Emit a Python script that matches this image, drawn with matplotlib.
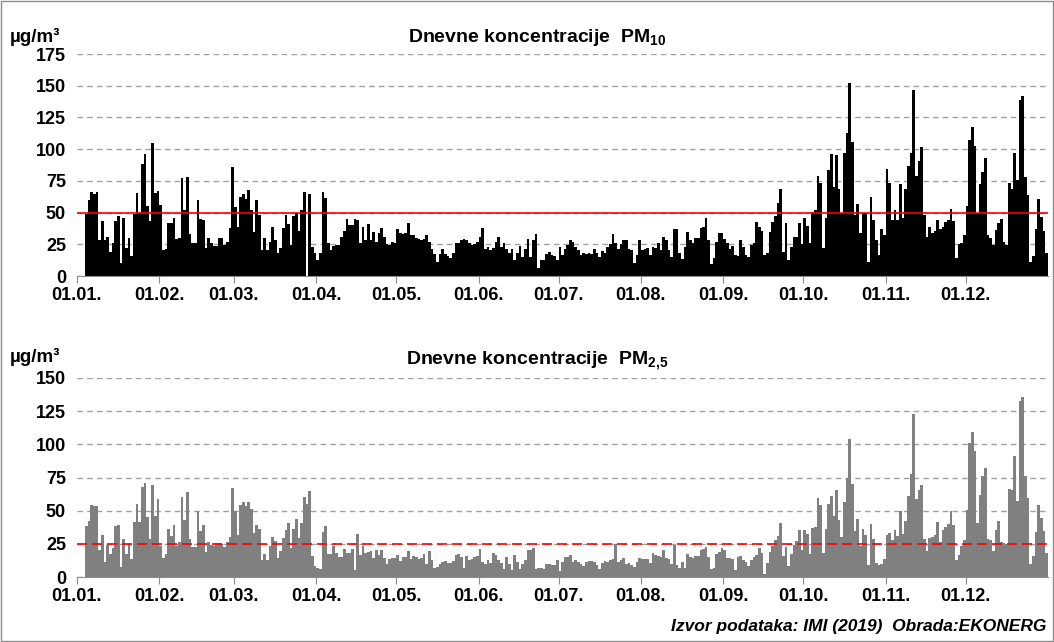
import numpy
import matplotlib
matplotlib.use("Agg")
from matplotlib import pyplot as plt
from matplotlib.patches import Rectangle

plt.rcParams['font.family'] = ['Liberation Sans', 'DejaVu Sans']
plt.rcParams['mathtext.fontset'] = 'custom'
plt.rcParams['mathtext.rm'] = 'Liberation Sans:bold'
plt.rcParams['mathtext.bf'] = 'Liberation Sans:bold'

# daily values (first 3 days have no data)
missing_start = [numpy.nan, numpy.nan, numpy.nan]

pm10_jan_feb = [49, 60, 66, 64.5, 66, 28, 43.5, 28, 31, 19, 26, 43.5, 47, 10, 46, 22, 30, 16, 49, 65.6,
                50, 88, 96, 55, 43.5, 104.5, 65.6, 67, 56, 20.5, 21, 42, 41.5, 46, 29, 30, 77, 52, 78, 33.5,
                25.7, 26, 60, 44.6, 44, 22, 30, 26, 23.6, 24, 29.7, 29.7, 24.4, 27, 38, 86, 54, 39, 62, 65,
                61, 68]
pm10_mar_may = [52, 35, 60, 48, 20.5, 29.7, 20.5, 27, 39, 28, 18, 22, 37.5, 48, 40.7, 24.4, 47, 50, 35.4, 52,
                66, numpy.nan, 65, 23, 18, 12.6, 18, 66.4, 61.7, 25.7, 20.5, 23.6, 24.4, 24.4, 31, 35.7, 44.6, 40, 40, 45,
                44, 26, 39, 28, 41, 28, 35, 27, 34, 37.5, 31, 25, 24.4, 27, 26, 36.7, 33.6, 33, 34, 42,
                32, 32]
pm10_may_jul = [30, 29, 28, 29, 32, 27, 21, 17, 11, 17, 21.5, 17, 16, 14.5, 18, 26, 26, 28, 29, 28,
                26, 24.4, 25, 27, 31, 37.5, 21, 22.6, 20.5, 22, 27, 30.4, 23, 26, 21, 18, 21, 13, 18, 23.6,
                14.7, 21, 29, 14.7, 28, 32.8, 6, 12.6, 13, 17.3, 19, 16.5, 15.7, 13, 22.6, 16.5, 21, 24.4, 28, 27,
                22.6, 20.5, 16.5]
pm10_jul_sep = [18, 17.5, 18, 17, 21.5, 17.8, 15, 20, 17.8, 23, 25, 33, 26, 21, 25, 28, 28, 21, 20.5, 10,
                16.5, 28, 20.5, 21.5, 22, 16.5, 23, 22, 26, 20.5, 30.4, 28, 20.5, 15, 36.7, 36.7, 17.8, 13.6, 23, 35,
                28, 26, 29.7, 29.7, 38, 38.3, 45.7, 28, 9.4, 13.9, 27, 33.6, 33.6, 29, 26, 21, 23.6, 16.5, 15.7, 28,
                23, 16.5]
pm10_sep_nov = [15.2, 24.4, 25.7, 42.8, 38.8, 35.7, 16.3, 18.4, 34.6, 42.8, 47, 57.7, 68.2, 19, 42, 12.6, 23, 31, 31, 42,
                25, 46, 39.6, 26, 50.6, 52, 78.7, 73.5, 22.3, 46, 83.5, 96, 69.8, 95.5, 68.2, 50, 96.6, 112.9, 152, 106,
                48, 56.7, 33.6, 50, 50, 11, 62.5, 44, 28.3, 16.8, 36.7, 32.3, 84, 73, 44, 52, 44, 72.4, 46, 68.5,
                86.9, 97]
pm10_nov_dec = [147, 79, 90.8, 101.6, 48, 30.4, 38.3, 33.6, 35.7, 44, 36.7, 38.8, 42.8, 44, 52.5, 43.3, 14.4, 25, 25.7, 32.3,
                55, 107.6, 117.6, 102.4, 50, 72.4, 82, 93.4, 32.3, 29.7, 24.4, 36, 41.5, 45, 27, 24.4, 73, 68.5, 97, 76,
                139, 142, 78, 63.8, 10.8, 16, 36.7, 60.6, 46.7, 35.7, 18]

pm25_jan_feb = [38.2, 42.2, 54.5, 53.3, 53.5, 20, 32, 11.3, 24.4, 17, 22, 38.4, 39, 7.5, 28.4, 17, 25, 13.8, 41.5, 55.3,
                41.5, 67.8, 71, 45, 29, 69.6, 45.7, 59, 23.4, 14.3, 17, 36.4, 30.7, 39, 23.4, 26.4, 60.3, 42.7, 64, 29,
                22.6, 22.6, 49.7, 35, 39, 18.8, 26.4, 23.9, 23.4, 25.9, 25.9, 25, 22.6, 26.4, 30, 67, 50, 32, 54.5, 56.3,
                53.3, 56.8]
pm25_mar_may = [51.5, 33.4, 39, 36, 13, 17, 13, 23, 30, 27, 14.3, 19.3, 29.4, 35.7, 41, 21.9, 36.4, 43.5, 29.6, 40.7,
                60.3, 55, 64.6, 15.8, 8.3, 7, 6.3, 34, 38.4, 17.6, 17, 23, 18, 15, 15, 20.9, 18, 18, 21.4, 5,
                32.4, 16.3, 23, 18.3, 18.8, 19.3, 14.3, 20, 16.3, 20, 14.3, 9.5, 13.8, 14.3, 14.3, 16.3, 11.8, 15, 15, 19.3,
                13.8, 15.6]
pm25_may_jul = [15, 13.8, 14.3, 17, 9.5, 19.3, 13, 6.8, 7.5, 10, 11.3, 12, 10.6, 10.8, 11.8, 16.8, 17.6, 15, 6.8, 15.6,
                13, 13.8, 15, 15.6, 20.9, 11.3, 10, 12.6, 10.8, 18.3, 16.3, 12.6, 10.6, 5.8, 15, 10, 5, 16.3, 11.3, 6.3,
                10, 13, 20, 20.6, 22, 6.3, 7, 7, 6.3, 9.5, 10, 9.3, 8.8, 13, 4.3, 11.3, 15, 15, 16.3, 11.3,
                12.6, 11.3, 10]
pm25_jul_sep = [8.3, 11.3, 12, 12, 11.3, 8.8, 5.8, 10.6, 11.8, 11.3, 12.6, 13.8, 24.6, 11.3, 13, 14.3, 10, 10.6, 8.8, 7.5,
                11.3, 14.3, 13.3, 13.8, 13.8, 10.6, 18.3, 16.3, 15.8, 15, 20, 14.6, 13.8, 10, 23.9, 9.3, 6.8, 11.3, 6.8, 17,
                15, 14.3, 15.6, 15.6, 20, 20.9, 22.6, 15, 6.3, 6.8, 17.6, 18.8, 21.9, 20, 14.3, 14.3, 13.8, 5.5, 15, 15.6,
                12.6, 11.3]
pm25_sep_nov = [8, 12.6, 15, 16.3, 22, 18.3, 2.5, 10.6, 18.8, 23.4, 27.6, 30.7, 41, 15.6, 22.6, 8.3, 17, 23.9, 26.9, 35.2,
                20.4, 35.7, 32.7, 17.3, 36.9, 37.7, 59.8, 54, 18, 36.4, 54.8, 61, 45.7, 65.6, 42.7, 30.4, 56.8, 74.9, 103.8, 70.4,
                35, 43.5, 23.4, 36.4, 31.4, 8.8, 40.2, 28.4, 10.6, 9.3, 10, 13.8, 31.9, 33.4, 27.6, 35.2, 30.9, 49.7, 32.2, 42.2,
                61, 77.4]
pm25_nov_dec = [123, 59, 65.3, 69, 28.4, 19.6, 29.4, 30.2, 31.9, 41.5, 26.4, 35.2, 37.7, 39.7, 49.7, 39, 13, 16.3, 23.4, 27.6,
                50.3, 101, 109.3, 94.7, 40.7, 62, 76, 82, 28.9, 27.6, 19.6, 35.7, 42.2, 26.4, 25.6, 25, 66, 65.3, 91.2, 57.3,
                132.7, 135.7, 75.9, 59.5, 10, 15.8, 33.9, 54.5, 44.7, 34.4, 18]

month_start = [0, 31, 59, 90, 120, 151, 181, 212, 243, 273, 304, 334]
month_labels = ["01.01.", "01.02.", "01.03.", "01.04.", "01.05.", "01.06.",
                "01.07.", "01.08.", "01.09.", "01.10.", "01.11.", "01.12."]

pm10 = numpy.concatenate([missing_start, pm10_jan_feb, pm10_mar_may, pm10_may_jul,
                          pm10_jul_sep, pm10_sep_nov, pm10_nov_dec])
pm25 = numpy.concatenate([missing_start, pm25_jan_feb, pm25_mar_may, pm25_may_jul,
                          pm25_jul_sep, pm25_sep_nov, pm25_nov_dec])
days = numpy.arange(len(pm10))

W, H = 1054, 642
fig = plt.figure(figsize=(W / 100, H / 100), dpi=100)
fig.patches.append(Rectangle((0.0005, 0.0008), 0.999, 0.998, transform=fig.transFigure,
                             fill=False, edgecolor='#8c8c8c', lw=1))


def make_axes(top, bottom):
    ax = fig.add_axes([77 / W, 1 - bottom / H, (1048 - 77) / W, (bottom - top) / H])
    for s in ['top', 'right', 'left']:
        ax.spines[s].set_visible(False)
    ax.spines['bottom'].set_color('#8c8c8c')
    ax.set_xlim(0, len(days))
    ax.set_xticks(month_start)
    ax.set_xticklabels(month_labels, fontsize=13, fontweight='bold')
    ax.tick_params(axis='x', length=5, color='#8c8c8c', pad=3)
    ax.tick_params(axis='y', length=0, pad=8, labelsize=13)
    ax.yaxis.grid(True, linestyle=(0, (4, 3)), color='#a0a0a0', lw=1)
    ax.set_axisbelow(True)
    return ax


# PM10
ax1 = make_axes(54, 276)
ax1.bar(days + 0.5, pm10, width=1.0, color='black', linewidth=0)
ax1.set_ylim(0, 175)
ax1.set_yticks(range(0, 176, 25))
ax1.set_yticklabels([str(v) for v in range(0, 176, 25)], fontweight='bold')
ax1.axhline(50, color='red', lw=1.2)
fig.text(537 / W, 1 - 37 / H, r"Dnevne koncentracije  PM$_{\mathbf{10}}$", ha='center', va='center',
         fontsize=14, fontweight='bold')
fig.text(10 / W, 1 - 37 / H, "µg/m³", ha='left', va='center', fontsize=13.5, fontweight='bold')

# PM2.5
ax2 = make_axes(378, 577)
ax2.bar(days + 0.5, pm25, width=1.0, color='#808080', linewidth=0)
ax2.set_ylim(0, 150)
ax2.set_yticks(range(0, 151, 25))
ax2.set_yticklabels([str(v) for v in range(0, 151, 25)], fontweight='bold')
ax2.axhline(25, color='red', lw=1.2, linestyle=(0, (6, 3)))
fig.text(537 / W, 1 - 361 / H, r"Dnevne koncentracije  PM$_{\mathbf{2{,}5}}$", ha='center', va='center',
         fontsize=14, fontweight='bold')
fig.text(10 / W, 1 - 357 / H, "µg/m³", ha='left', va='center', fontsize=13.5, fontweight='bold')

fig.text(1046 / W, 1 - 627 / H, "Izvor podataka: IMI (2019)  Obrada:EKONERG", ha='right', va='center',
         fontsize=12.5, fontweight='bold', fontstyle='italic')

plt.savefig("out.png", dpi=100)
